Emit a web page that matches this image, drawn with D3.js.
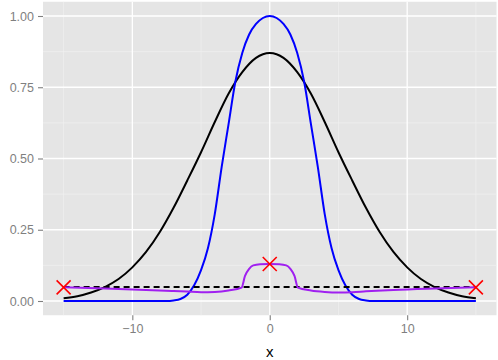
<!DOCTYPE html>
<html>
<head>
<meta charset="utf-8">
<script src="https://cdn.jsdelivr.net/npm/d3@7"></script>
<style>
  body { margin: 0; background: #fff; }
  svg text { font-family: "Liberation Sans", Arial, sans-serif; }
</style>
</head>
<body>
<svg id="chart" width="498" height="360"></svg>
<script>
// values
const xTicks = [-10, 0, 10];
const yTicks = [0, 0.25, 0.5, 0.75, 1];

const normalX = [-15, -14, -13, -12, -11, -10, -9, -8, -7, -6, -5, -4, -3, -2, -1, 0,
  1, 2, 3, 4, 5, 6, 7, 8, 9, 10, 11, 12, 13, 14, 15];
const normalY = [0.010, 0.017, 0.030, 0.049, 0.077, 0.118, 0.172, 0.242, 0.327, 0.423, 0.522, 0.628, 0.727, 0.803, 0.853, 0.870,
  0.853, 0.803, 0.727, 0.628, 0.522, 0.423, 0.327, 0.242, 0.172, 0.118, 0.077, 0.049, 0.030, 0.017, 0.010];

const blueX = [-15, -10, -8, -7.5, -7, -6.5, -6, -5.5, -5, -4.5, -4, -3.5, -3, -2.5, -2, -1.5, -1, -0.5, 0,
  0.5, 1, 1.5, 2, 2.5, 3, 3.5, 4, 4.5, 5, 5.5, 6, 6.5, 7, 7.5, 8, 10, 15];
const blueY = [0, 0, 0, 0, 0.002, 0.007, 0.022, 0.055, 0.108, 0.185, 0.305, 0.47, 0.62, 0.77, 0.87, 0.935, 0.972, 0.993, 1,
  0.993, 0.972, 0.935, 0.87, 0.77, 0.62, 0.47, 0.305, 0.185, 0.108, 0.055, 0.022, 0.007, 0.002, 0, 0, 0, 0];

const purpleX = [-15, -12, -9, -7, -6, -5, -4, -3, -2.05, -1.8, -1.5, -1.2, -0.7, 0,
  0.7, 1.2, 1.5, 1.8, 2.05, 3, 4, 5, 6, 7, 9, 12, 15];
const purpleY = [0.048, 0.044, 0.039, 0.035, 0.033, 0.031, 0.032, 0.037, 0.047, 0.088, 0.113, 0.125, 0.129, 0.130,
  0.129, 0.125, 0.113, 0.088, 0.047, 0.037, 0.032, 0.030, 0.031, 0.034, 0.039, 0.044, 0.048];

const dashX = [-15, 15];
const dashY = [0.049, 0.049];

const markX = [-15, 0, 15];
const markY = [0.048, 0.13, 0.048];

const svg = d3.select("#chart");
const panel = { left: 43, right: 496.5, top: 1.75, bottom: 315.25 };

const x = d3.scaleLinear().domain([-16.5, 16.5]).range([panel.left, panel.right]);
const y = d3.scaleLinear().domain([-0.05, 1.05]).range([panel.bottom, panel.top]);

// panel background
svg.append("rect")
  .attr("x", panel.left).attr("y", panel.top)
  .attr("width", panel.right - panel.left)
  .attr("height", panel.bottom - panel.top)
  .attr("fill", "#E5E5E5");

// minor grid
const xMinor = [-15, -5, 5, 15];
const yMinor = [0.125, 0.375, 0.625, 0.875];
svg.append("g").selectAll("line").data(xMinor).enter().append("line")
  .attr("x1", d => x(d)).attr("x2", d => x(d))
  .attr("y1", panel.top).attr("y2", panel.bottom)
  .attr("stroke", "#F2F2F2").attr("stroke-width", 0.6);
svg.append("g").selectAll("line").data(yMinor).enter().append("line")
  .attr("y1", d => y(d)).attr("y2", d => y(d))
  .attr("x1", panel.left).attr("x2", panel.right)
  .attr("stroke", "#F2F2F2").attr("stroke-width", 0.6);

// major grid
svg.append("g").selectAll("line").data(xTicks).enter().append("line")
  .attr("x1", d => x(d)).attr("x2", d => x(d))
  .attr("y1", panel.top).attr("y2", panel.bottom)
  .attr("stroke", "#fff").attr("stroke-width", 1.3);
svg.append("g").selectAll("line").data(yTicks).enter().append("line")
  .attr("y1", d => y(d)).attr("y2", d => y(d))
  .attr("x1", panel.left).attr("x2", panel.right)
  .attr("stroke", "#fff").attr("stroke-width", 1.3);

// axes
const xAxis = svg.append("g")
  .attr("transform", `translate(0,${panel.bottom})`)
  .call(d3.axisBottom(x).tickValues(xTicks).tickSize(5).tickPadding(4)
    .tickFormat(d => d < 0 ? "\u2212" + Math.abs(d) : d));
const yAxis = svg.append("g")
  .attr("transform", `translate(${panel.left},0)`)
  .call(d3.axisLeft(y).tickValues(yTicks).tickSize(5).tickPadding(4)
    .tickFormat(d3.format(".2f")));
[xAxis, yAxis].forEach(a => {
  a.select(".domain").remove();
  a.selectAll(".tick line").attr("stroke", "#7F7F7F").attr("stroke-width", 1.1);
  a.selectAll(".tick text").attr("fill", "#7F7F7F").style("font-size", "12.5px");
});

svg.append("text")
  .attr("x", x(0)).attr("y", 357)
  .attr("text-anchor", "middle")
  .style("font-size", "15px")
  .attr("fill", "#000")
  .text("x");

// curves
const line = d3.line().x(d => x(d[0])).y(d => y(d[1])).curve(d3.curveMonotoneX);
const plot = svg.append("g");

function addLine(xs, ys, color, dash) {
  plot.append("path")
    .datum(d3.zip(xs, ys))
    .attr("d", line)
    .attr("fill", "none")
    .attr("stroke", color)
    .attr("stroke-width", 2)
    .attr("stroke-dasharray", dash || null);
}

addLine(normalX, normalY, "#000000");
addLine(blueX, blueY, "#0000FF");
addLine(dashX, dashY, "#000000", "6,4");
addLine(purpleX, purpleY, "#A020F0");

// red cross markers
const s = 7;
const marks = plot.append("g").selectAll("g").data(d3.zip(markX, markY)).enter().append("g")
  .attr("transform", d => `translate(${x(d[0])},${y(d[1])})`);
marks.append("path")
  .attr("d", `M${-s},${-s}L${s},${s}M${-s},${s}L${s},${-s}`)
  .attr("stroke", "#FF0000")
  .attr("stroke-width", 1.6)
  .attr("fill", "none");
</script>
</body>
</html>
